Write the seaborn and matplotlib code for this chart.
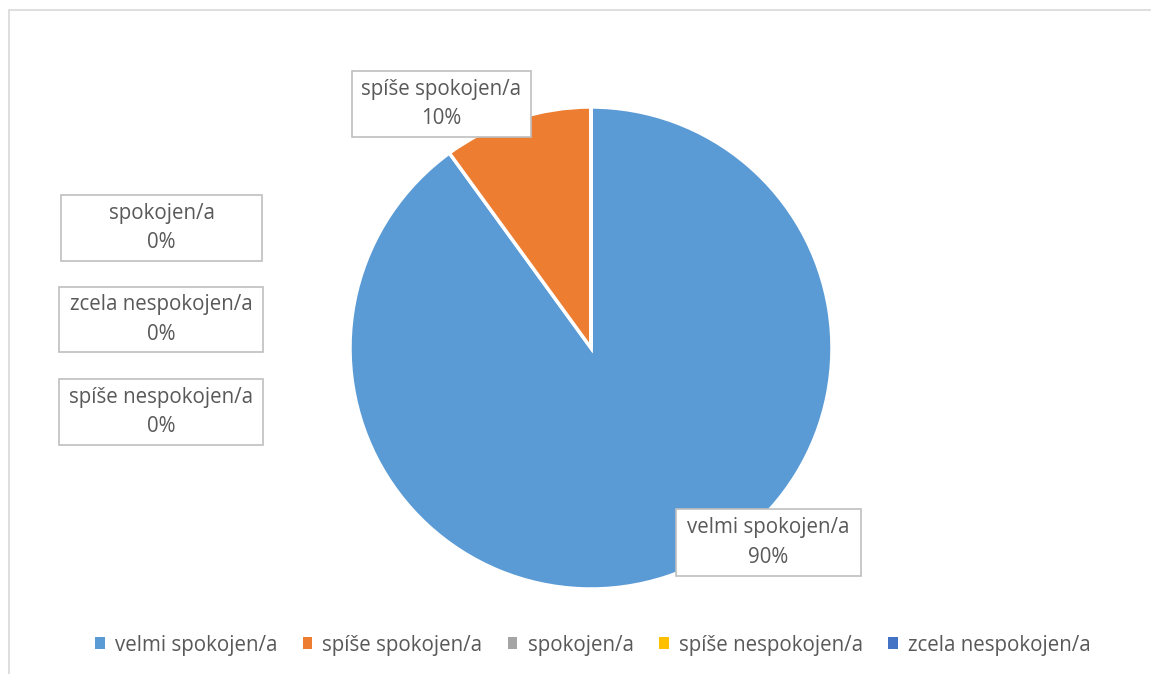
import matplotlib
matplotlib.use("Agg")
import matplotlib.pyplot as plt
import seaborn as sns
from matplotlib.patches import Rectangle, Patch

categories = ["velmi spokojen/a", "spíše spokojen/a", "spokojen/a",
              "spíše nespokojen/a", "zcela nespokojen/a"]
values = [90, 10, 0, 0, 0]
colors = ["#5B9BD5", "#ED7D31", "#A5A5A5", "#FFC000", "#4472C4"]
pct_labels = ["90%", "10%", "0%", "0%", "0%"]

sns.set_theme(style="white")
plt.rcParams['font.family'] = ['Open Sans', 'DejaVu Sans']

W, H = 1151, 674
fig = plt.figure(figsize=(W / 100, H / 100), dpi=100)

# chart frame (partially cropped in reference)
fig.patches.append(Rectangle((9 / W, -0.1), 1.2, (H - 10) / H + 0.1,
                             transform=fig.transFigure, fill=False,
                             edgecolor="#D9D9D9", linewidth=1.2))

cx, cy, r = 591, H - 348, 241
ax = fig.add_axes([(cx - r) / W, (cy - r) / H, 2 * r / W, 2 * r / H])
sns.set_palette(colors)
wedges, _ = ax.pie(values, colors=colors, startangle=90, counterclock=False,
                   radius=1, wedgeprops=dict(edgecolor="white", linewidth=2.5))
ax.set_xlim(-1.0, 1.0)
ax.set_ylim(-1.0, 1.0)
ax.set_axis_off()

# data label boxes: (category index, x0, y0_top, x1, y1_bottom) in pixels
boxes = [
    (0, 676, 509, 861, 576),
    (1, 352, 71, 531, 137),
    (2, 61, 195, 262, 261),
    (4, 59, 287, 263, 352),
    (3, 59, 379, 263, 445),
]
txt_color = "#595959"
for idx, x0, y0, x1, y1 in boxes:
    fig.patches.append(Rectangle((x0 / W, (H - y1) / H), (x1 - x0) / W, (y1 - y0) / H,
                                 transform=fig.transFigure, facecolor="white",
                                 edgecolor="#BFBFBF", linewidth=1.2, zorder=5))
    xc = (x0 + x1) / 2 / W
    yc = (H - (y0 + y1) / 2) / H
    fig.text(xc, yc, f"{categories[idx]}\n{pct_labels[idx]}", ha="center", va="center",
             fontsize=14.8, color=txt_color, linespacing=1.55, zorder=6)

handles = [Patch(facecolor=c, edgecolor="none") for c in colors]
leg = fig.legend(handles, categories, loc="center", bbox_to_anchor=(593 / W, (H - 645) / H),
                 ncol=5, frameon=False, fontsize=14.8, handlelength=0.45, handleheight=0.5,
                 handletextpad=0.5, columnspacing=1.25, labelcolor=txt_color)

fig.savefig("out.png", dpi=100, facecolor="white")
